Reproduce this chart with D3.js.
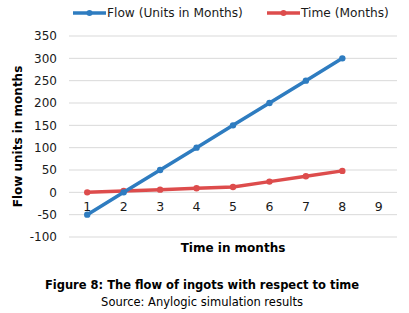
<!DOCTYPE html>
<html>
<head>
<meta charset="utf-8">
<script src="https://cdn.jsdelivr.net/npm/d3@7"></script>
<style>
  body { margin: 0; background: #fff; }
  svg { display: block; font-family: "DejaVu Sans", sans-serif; }
</style>
</head>
<body>
<div id="chart"></div>
<script>
let months = ["1", "2", "3", "4", "5", "6", "7", "8", "9"];
let flowValues = [-50, 0, 50, 100, 150, 200, 250, 300];
let timeValues = [0, 3, 6, 9, 12, 24, 36, 48];
let yTicks = [-100, -50, 0, 50, 100, 150, 200, 250, 300, 350];

let width = 409;
let height = 313;
let margin = { left: 69, right: 12, top: 36, bottom: 76 };

let svg = d3.select('#chart')
	.append('svg')
	.attr('width', width)
	.attr('height', height);

let x = d3.scaleBand()
	.domain(months)
	.range([margin.left, width - margin.right]);

let y = d3.scaleLinear()
	.domain([-100, 350])
	.range([height - margin.bottom, margin.top]);

// gridlines
svg.append('g')
	.selectAll('line')
	.data(yTicks)
	.enter()
	.append('line')
	.attr('x1', margin.left)
	.attr('x2', width - margin.right)
	.attr('y1', d => y(d))
	.attr('y2', d => y(d))
	.attr('stroke', '#d9d9d9')
	.attr('stroke-width', 1);

// y tick labels
svg.append('g')
	.selectAll('text')
	.data(yTicks)
	.enter()
	.append('text')
	.attr('x', 57)
	.attr('y', d => y(d))
	.attr('dy', '0.35em')
	.attr('text-anchor', 'end')
	.style('font-size', '12px')
	.attr('fill', '#1a1a1a')
	.text(d => d);

// x tick labels (next to zero line)
svg.append('g')
	.selectAll('text')
	.data(months)
	.enter()
	.append('text')
	.attr('x', d => x(d) + x.bandwidth() / 2)
	.attr('y', y(0) + 19)
	.attr('text-anchor', 'middle')
	.style('font-size', '12.5px')
	.attr('fill', '#1a1a1a')
	.text(d => d);

let series = [
	{ name: "Flow (Units in Months)", values: flowValues, color: "#2e7cc0" },
	{ name: "Time (Months)", values: timeValues, color: "#dd4c4c" }
];

let line = d3.line()
	.x((d, i) => x(months[i]) + x.bandwidth() / 2)
	.y(d => y(d));

series.slice().reverse().forEach(s => {
	svg.append('path')
		.datum(s.values)
		.attr('d', line)
		.attr('fill', 'none')
		.attr('stroke', s.color)
		.attr('stroke-width', 3.5)
		.attr('stroke-linejoin', 'round');
	svg.append('g')
		.selectAll('circle')
		.data(s.values)
		.enter()
		.append('circle')
		.attr('cx', (d, i) => x(months[i]) + x.bandwidth() / 2)
		.attr('cy', d => y(d))
		.attr('r', 3.2)
		.attr('fill', s.color);
});

// Legend
let legendX = [73, 267];
series.forEach((s, i) => {
	let g = svg.append('g').attr('transform', `translate(${legendX[i]}, 13)`);
	g.append('line')
		.attr('x1', 0).attr('x2', 33)
		.attr('stroke', s.color)
		.attr('stroke-width', 3.5);
	g.append('circle').attr('cx', 16.5).attr('r', 3).attr('fill', s.color);
	g.append('text')
		.attr('x', 34)
		.attr('dy', '0.35em')
		.style('font-size', '12.2px')
		.attr('fill', '#1a1a1a')
		.text(s.name);
});

// axis titles
svg.append('text')
	.attr('transform', `translate(18, ${(y(-100) + y(350)) / 2}) rotate(-90)`)
	.attr('text-anchor', 'middle')
	.attr('dy', '0.35em')
	.style('font-size', '12px')
	.style('font-weight', 'bold')
	.text('Flow units in months');

svg.append('text')
	.attr('x', (margin.left + width - margin.right) / 2)
	.attr('y', 252)
	.attr('text-anchor', 'middle')
	.style('font-size', '12px')
	.style('font-weight', 'bold')
	.text('Time in months');

// caption
svg.append('text')
	.attr('x', 202)
	.attr('y', 289)
	.attr('text-anchor', 'middle')
	.style('font-size', '11.5px')
	.style('font-weight', 'bold')
	.text('Figure 8: The flow of ingots with respect to time');

svg.append('text')
	.attr('x', 202)
	.attr('y', 306)
	.attr('text-anchor', 'middle')
	.style('font-size', '11.5px')
	.text('Source: Anylogic simulation results');
</script>
</body>
</html>
